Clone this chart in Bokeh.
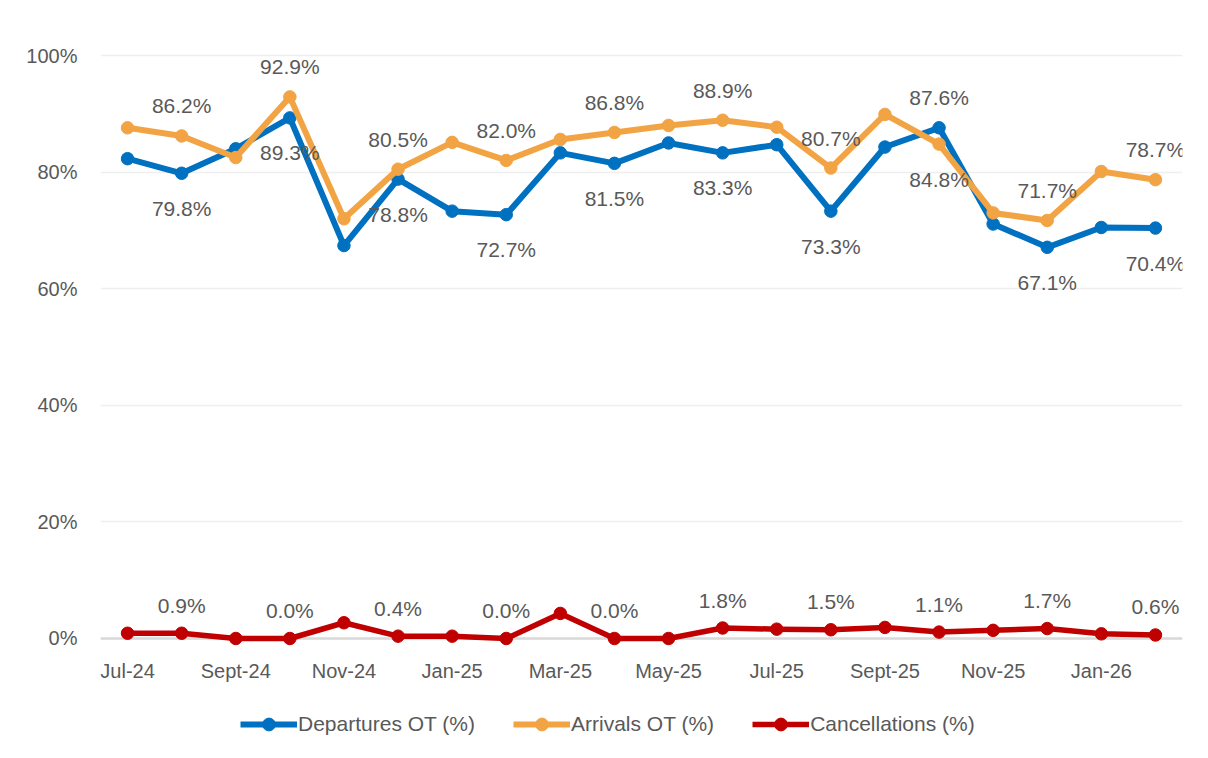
from bokeh.plotting import figure
from bokeh.models import (ColumnDataSource, Range1d, PrintfTickFormatter, FixedTicker,
                          Legend, LegendItem, Span)
from bokeh.core.properties import value
from bokeh.embed import file_html
from bokeh.resources import INLINE

# ---------------- data ----------------
months = ["Jul-24", "Aug-24", "Sept-24", "Oct-24", "Nov-24", "Dec-24", "Jan-25", "Feb-25",
          "Mar-25", "Apr-25", "May-25", "Jun-25", "Jul-25", "Aug-25", "Sept-25", "Oct-25",
          "Nov-25", "Dec-25", "Jan-26", "Feb-26"]
departures = [82.3, 79.8, 84.0, 89.3, 67.4, 78.8, 73.3, 72.7, 83.3, 81.5,
              85.0, 83.3, 84.7, 73.3, 84.3, 87.6, 71.1, 67.1, 70.5, 70.4]
arrivals = [87.6, 86.2, 82.5, 92.9, 72.0, 80.5, 85.1, 82.0, 85.6, 86.8,
            88.0, 88.9, 87.7, 80.7, 89.9, 84.8, 73.0, 71.7, 80.1, 78.7]
cancellations = [0.9, 0.9, 0.0, 0.0, 2.7, 0.4, 0.4, 0.0, 4.3, 0.0,
                 0.0, 1.8, 1.6, 1.5, 1.9, 1.1, 1.4, 1.7, 0.8, 0.6]
series_names = ["Departures OT (%)", "Arrivals OT (%)", "Cancellations (%)"]
shown_tick_labels = ["Jul-24", "Sept-24", "Nov-24", "Jan-25", "Mar-25", "May-25",
                     "Jul-25", "Sept-25", "Nov-25", "Jan-26"]
y_ticks = [0, 20, 40, 60, 80, 100]

# ---------------- styles ----------------
colors = ["#0070C0", "#F2A444", "#C00000"]
TEXT = "#595959"
FONT = "Liberation Sans"
# data-label placement per series: "a" above, "b" below (labels on every other point)
dep_pos = ["b"] * 20
dep_pos[15] = "a"
arr_pos = ["a"] * 20
arr_pos[15] = "b"
can_pos = ["c"] * 20
OFF = {"a": -30, "b": 35, "c": -28}

xpos = list(range(len(months)))

Y_BOTTOM = -17.84   # frame extends below the axis so the legend can sit inside it
p = figure(width=1192, height=742, x_range=Range1d(-0.5, len(months) - 0.5),
           y_range=Range1d(Y_BOTTOM, 102.06), output_backend="svg", toolbar_location=None,
           min_border_left=100, min_border_right=10, min_border_top=43, min_border_bottom=0)
p.outline_line_color = None
p.background_fill_color = "white"
p.border_fill_color = "white"

p.xgrid.grid_line_color = None
p.ygrid.grid_line_color = "#EFEFEF"
p.ygrid.grid_line_width = 1.5
p.yaxis.ticker = y_ticks
p.yaxis.formatter = PrintfTickFormatter(format="%d%%")
p.xaxis.ticker = FixedTicker(ticks=[months.index(m) for m in shown_tick_labels])
p.xaxis.major_label_overrides = {months.index(m): m for m in shown_tick_labels}
p.xaxis.fixed_location = -2.4

for ax in (p.xaxis[0], p.yaxis[0]):
    ax.axis_line_color = None
    ax.major_tick_line_color = None
    ax.minor_tick_line_color = None
    ax.major_tick_out = 0
    ax.major_tick_in = 0
    ax.major_label_text_font = FONT
    ax.major_label_text_font_size = "20px"
    ax.major_label_text_color = TEXT
p.yaxis.major_label_standoff = 23
p.xaxis.major_label_standoff = 8

p.add_layout(Span(location=0, dimension="width", line_color="#D9D9D9", line_width=2.5,
                  level="underlay"))

src = ColumnDataSource(dict(x=xpos, dep=departures, arr=arrivals, can=cancellations))
items = []
for key, name, col in zip(["dep", "arr", "can"], series_names, colors):
    lw = 6 if key != "can" else 5.5
    lr = p.line("x", key, source=src, line_color=col, line_width=lw, line_join="round")
    sr = p.scatter("x", key, source=src, size=12.5, fill_color=col, line_color=col)
    items.append(LegendItem(label=name, renderers=[lr, sr]))

for vals, pos in [(departures, dep_pos), (arrivals, arr_pos), (cancellations, can_pos)]:
    idx = list(range(1, len(months), 2))
    lab = ColumnDataSource(dict(x=[xpos[i] for i in idx], v=[vals[i] for i in idx],
                                t=["%.1f%%" % vals[i] for i in idx],
                                off=[OFF[pos[i]] for i in idx]))
    p.text("x", "v", text="t", source=lab, y_offset="off", text_align="center",
           text_baseline="middle", text_font=value(FONT), text_font_size="21px",
           text_color=TEXT)

leg = Legend(items=items, orientation="horizontal", location=(140, 2),
             glyph_width=57, glyph_height=32, label_standoff=1, spacing=38,
             padding=0, margin=0, border_line_alpha=0, background_fill_alpha=0,
             label_text_font=FONT, label_text_font_size="21px", label_text_color=TEXT)
p.add_layout(leg, "center")

open("out.html", "w").write(file_html(p, INLINE))
